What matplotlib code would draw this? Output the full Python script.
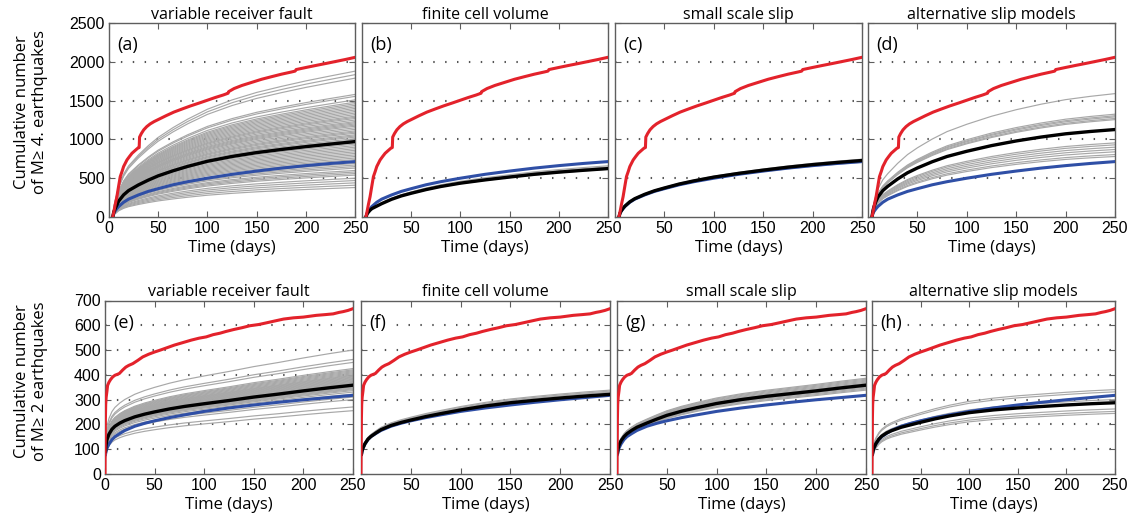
import matplotlib
matplotlib.use("Agg")
import matplotlib.pyplot as plt
import numpy as np

# ---------------- data ----------------
titles = ["variable receiver fault", "finite cell volume", "small scale slip", "alternative slip models"]
top_labels = ["(a)", "(b)", "(c)", "(d)"]
bot_labels = ["(e)", "(f)", "(g)", "(h)"]
xticks_first = [0, 50, 100, 150, 200, 250]
xticks_other = [50, 100, 150, 200, 250]
top_yticks = [0, 500, 1000, 1500, 2000, 2500]
bot_yticks = [0, 100, 200, 300, 400, 500, 600, 700]

# observed (red) curve, top row (M>=4)
red_top_t = [4, 5, 6.5, 8.2, 10, 11.6, 13.5, 15, 18.4, 21, 23.5, 26.5, 29.3, 30.8, 31.2, 33, 35.4,
             38.5, 42, 46, 50, 58, 66, 75, 83, 92, 100, 108, 116, 121, 121.5, 127, 135, 145, 155,
             165, 175, 185, 189, 190, 200, 210, 220, 230, 240, 250]
red_top_v = [0, 60, 160, 262, 400, 520, 590, 650, 735, 780, 821, 855, 886, 895, 1030, 1075, 1123,
             1165, 1200, 1230, 1255, 1305, 1352, 1395, 1432, 1470, 1505, 1540, 1572, 1595, 1615, 1655,
             1695, 1735, 1775, 1808, 1840, 1868, 1880, 1900, 1927, 1953, 1978, 2004, 2030, 2058]

# observed (red) curve, bottom row (M>=2)
red_bot_t = [0, 0.2, 0.4, 0.7, 1.2, 2, 2.6, 4, 5.5, 7.7, 10, 14.4, 18, 21, 24, 28, 33, 38, 44, 50,
             56, 61.6, 70, 78.5, 87, 95, 102, 109, 116, 122, 130, 138, 146, 155, 163, 172, 180, 190,
             200, 213, 222, 230, 236, 240, 245, 250]
red_bot_v = [0, 120, 220, 280, 310, 335, 357, 370, 380, 391, 398, 405, 420, 431, 438, 445, 458, 472,
             483, 492, 500, 508, 520, 530, 540, 548, 553, 562, 568, 575, 583, 590, 598, 603, 610, 618,
             625, 630, 633, 640, 643, 646, 652, 655, 660, 667]

# model curves, top row
t_top = [4, 5, 6, 8, 10, 15, 20, 30, 40, 50, 65, 80, 100, 125, 150, 175, 200, 225, 250]
blue_top = [0, 45, 70, 105, 135, 190, 230, 284, 330, 365, 415, 455, 500, 550, 592, 630, 662, 690, 714]
black_a = [0, 60, 95, 150, 205, 285, 340, 413, 475, 530, 595, 652, 718, 780, 830, 870, 907, 940, 972]
black_b = [0, 35, 55, 85, 108, 140, 172, 228, 272, 306, 353, 393, 436, 478, 515, 550, 578, 602, 624]
black_c = [0, 47, 73, 110, 140, 196, 236, 292, 338, 374, 425, 466, 514, 562, 604, 642, 675, 703, 728]
black_d = [0, 80, 130, 200, 255, 340, 396, 490, 570, 632, 712, 780, 847, 920, 980, 1030, 1072, 1102, 1127]

# model curves, bottom row
t_bot = [0.5, 1, 2, 4, 7, 10, 15, 20, 30, 40, 50, 65, 80, 100, 125, 150, 175, 200, 225, 250]
blue_bot = [78, 90, 103, 120, 138, 150, 163, 175, 192, 204, 214, 227, 238, 252, 266, 278, 289, 299, 308, 317]
black_e = [90, 115, 138, 160, 180, 192, 205, 215, 230, 241, 250, 262, 272, 283, 296, 310, 322, 335, 347, 358]
black_f = [80, 92, 104, 122, 140, 151, 165, 178, 195, 207, 217, 231, 243, 258, 274, 287, 297, 306, 314, 321]
black_g = [85, 100, 115, 133, 150, 162, 176, 188, 205, 221, 236, 253, 267, 284, 300, 313, 324, 335, 347, 358]
black_h = [80, 92, 105, 122, 140, 152, 165, 174, 188, 198, 208, 222, 234, 247, 258, 266, 272, 278, 283, 287]

# ensemble members (grey): value reached at 250 days, each follows the panel's mean curve shape
grey_end_a = [1880, 1835, 1790, 1580, 1555, 1510, 1480, 1460, 1440, 1420, 1400, 1380, 1360, 1340, 1320,
              1300, 1285, 1270, 1250, 1230, 1215, 1200, 1185, 1170, 1150, 1130, 1110, 1095, 1080, 1060,
              1045, 1030, 1010, 995, 960, 940, 920, 900, 880, 860, 840, 820, 800, 780, 760, 740, 720,
              690, 670, 650, 630, 600, 580, 560, 540, 500, 470, 440, 410, 380]
grey_end_b = [615, 630, 645, 660]
grey_end_c = [705, 715, 735, 745]
grey_end_d = [1590, 1325, 1305, 1290, 1270, 1255, 955, 930, 900, 870, 840, 805, 780]
grey_end_e = [500, 462, 450, 425, 420, 416, 412, 408, 404, 400, 397, 394, 391, 388, 385, 382, 379, 376,
              373, 370, 367, 364, 361, 358, 355, 352, 349, 346, 343, 340, 336, 330, 322, 310, 300, 270, 255]
grey_end_f = [322, 326, 330, 334, 338]
grey_end_g = [338, 342, 346, 350, 354, 358, 362, 366, 370, 374, 378, 382, 386]
grey_end_h = [340, 331, 300, 262, 252, 244]

# ---------------- style ----------------
RED = "#e3222b"
BLUE = "#2f4fa6"
GREY = "#a8a8a8"
SPINE = "#5e5e5e"
TXT = ["Open Sans", "DejaVu Sans"]
TICKF = ["Liberation Sans", "DejaVu Sans"]

W, H = 1129, 527
fig = plt.figure(figsize=(W / 100, H / 100), dpi=100)

top_x = [(108.8, 355.3), (362, 608), (615, 862), (868, 1115)]
bot_x = [(105, 353), (361, 610), (617, 866), (872, 1115)]
top_y = (23, 217)
bot_y = (300.5, 473.8)

def make_ax(xr, yr):
    l, r = xr
    t, b = yr
    return fig.add_axes([l / W, 1 - b / H, (r - l) / W, (b - t) / H])

def style(ax, yt, ylim, first, label, title, lab_y):
    ax.set_xlim(0, 250)
    ax.set_ylim(*ylim)
    ax.set_yticks(yt)
    ax.set_xticks(xticks_first if first else xticks_other)
    if not first:
        ax.set_yticklabels([])
    for lab in ax.get_xticklabels() + ax.get_yticklabels():
        lab.set_family(TICKF)
        lab.set_fontsize(11.5)
    ax.tick_params(direction="in", top=True, right=True, length=4, width=0.8, color=SPINE, pad=3)
    for s in ax.spines.values():
        s.set_color(SPINE)
        s.set_linewidth(1.0)
    for y in yt[1:-1]:
        ax.axhline(y, color="#555555", lw=1.5, ls=(0, (0.7, 5)), zorder=1)
    ax.set_title(title, family=TXT, fontsize=11.5, pad=3)
    ax.set_xlabel("Time (days)", family=TXT, fontsize=12, labelpad=3)
    ax.text(0.035, lab_y, label, transform=ax.transAxes, family=TXT, fontsize=13, va="center",
            ha="left", zorder=5,
            bbox=dict(facecolor="white", edgecolor="none", pad=2.5))

def draw(ax, t, blacks, blue, grey_end, red_t, red_v):
    bl = np.asarray(blacks, dtype=float)
    shape = bl / bl[-1]
    for e in grey_end:
        ax.plot(t, shape * e, color=GREY, lw=0.85, zorder=2)
    ax.plot(t, blue, color=BLUE, lw=2.2, zorder=3)
    ax.plot(t, blacks, color="black", lw=2.4, zorder=4)
    ax.plot(red_t, red_v, color=RED, lw=2.2, zorder=4.5)

top_blacks = [black_a, black_b, black_c, black_d]
top_greys = [grey_end_a, grey_end_b, grey_end_c, grey_end_d]
bot_blacks = [black_e, black_f, black_g, black_h]
bot_greys = [grey_end_e, grey_end_f, grey_end_g, grey_end_h]

for i in range(4):
    ax = make_ax(top_x[i], top_y)
    draw(ax, t_top, top_blacks[i], blue_top, top_greys[i], red_top_t, red_top_v)
    style(ax, top_yticks, (0, 2500), i == 0, top_labels[i], titles[i], 0.885)

    ax2 = make_ax(bot_x[i], bot_y)
    draw(ax2, t_bot, bot_blacks[i], blue_bot, bot_greys[i], red_bot_t, red_bot_v)
    style(ax2, bot_yticks, (0, 700), i == 0, bot_labels[i], titles[i], 0.87)

fig.text(31 / W, 1 - 112 / H, "Cumulative number\nof M\u2265 4. earthquakes", rotation=90,
         ha="center", va="center", family=TXT, fontsize=12, linespacing=1.2)
fig.text(31 / W, 1 - 381 / H, "Cumulative number\nof M\u2265 2 earthquakes", rotation=90,
         ha="center", va="center", family=TXT, fontsize=12, linespacing=1.2)

fig.savefig("out.png", dpi=100)
